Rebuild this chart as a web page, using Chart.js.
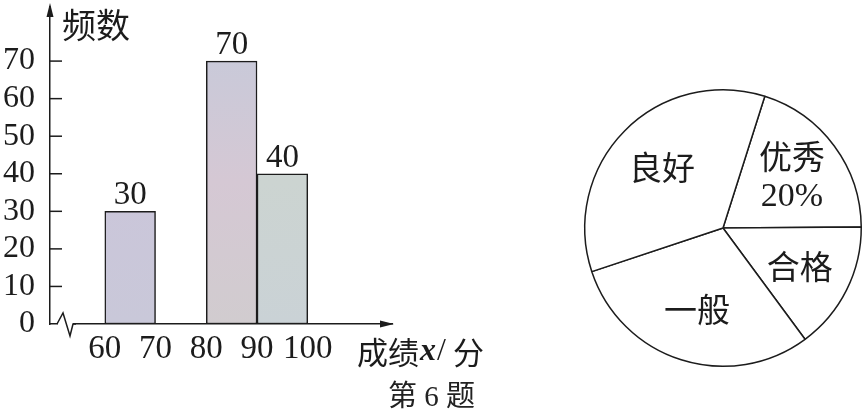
<!DOCTYPE html>
<html>
<head>
<meta charset="utf-8">
<script src="https://cdn.jsdelivr.net/npm/chart.js@4.4.1/dist/chart.umd.min.js"></script>
<style>
  body { margin: 0; background: #fff; overflow: hidden; }
  #wrap { position: relative; width: 863px; height: 413px; }
  #cvBarras { position: absolute; left: 0; top: 0; }
  #cvPastel { position: absolute; left: 573px; top: 78px; }
  #pie { position: absolute; left: 388px; top: 381px; line-height: 30px; font-size: 29px;
         font-family: "Liberation Serif", "Noto Sans CJK SC", serif; color: #222; white-space: pre; }
</style>
</head>
<body>
<div id="wrap">
  <canvas id="cvBarras" width="540" height="413"></canvas>
  <canvas id="cvPastel" width="300" height="300"></canvas>
  <div id="pie">第 6 题</div>
</div>
<script>
(function(){

// ---- datos del histograma (frecuencia por intervalo de nota)
const binStart = [60, 70, 80, 90];
const binWidth = 10;
const freq = [30, null, 70, 40];
const xTicks = [60, 70, 80, 90, 100];
const yTicks = [0, 10, 20, 30, 40, 50, 60, 70];

// ---- datos del grafico circular
const gradeNames = ["优秀", "合格", "一般", "良好"];
const gradePct = [20, 15, 30, 35];
const gradeShown = ["20%", "", "", ""];

// colores (arriba, medio, abajo) de cada barra
const barShades = [
    ["#c8c7db", "#cbc6da", "#c9c8d9"],
    ["#ffffff", "#ffffff", "#ffffff"],
    ["#c4cadb", "#d5c8d4", "#d1cccf"],
    ["#c7ced9", "#ccd4d1", "#cad2d6"]
];

const INK = "#1c1c1c";
const NUM_FONT = "Liberation Serif";
const CJK_FONT = "Noto Sans CJK SC";


// ---- histograma
const $cvBarras = document.querySelector("#cvBarras");

const puntos = binStart.map((b, i) => ({ x: b + binWidth / 2, y: freq[i] }));

function relleno(ctx){
    const area = ctx.chart.chartArea;
    const c = barShades[ctx.dataIndex] || barShades[0];
    if (!area) return c[1];
    const g = ctx.chart.ctx.createLinearGradient(0, area.top, 0, area.bottom);
    g.addColorStop(0, c[0]);
    g.addColorStop(0.55, c[1]);
    g.addColorStop(1, c[2]);
    return g;
}

const ejesExtra = {
    id: "ejesExtra",
    afterDraw(chart){
        const ctx = chart.ctx;
        const a = chart.chartArea;
        const sy = chart.scales.y;
        ctx.save();
        ctx.strokeStyle = INK;
        ctx.fillStyle = INK;
        ctx.lineWidth = 1.5;

        // marcas hacia adentro del eje y
        yTicks.forEach(v => {
            if (v === 0) return;
            const py = sy.getPixelForValue(v);
            ctx.beginPath();
            ctx.moveTo(a.left, py);
            ctx.lineTo(a.left + 12, py);
            ctx.stroke();
        });

        // flechas
        ctx.beginPath();
        ctx.moveTo(a.left, a.top - 4);
        ctx.lineTo(a.left - 3.5, a.top + 10);
        ctx.lineTo(a.left + 3.5, a.top + 10);
        ctx.closePath();
        ctx.fill();

        ctx.beginPath();
        ctx.moveTo(a.right + 2, a.bottom);
        ctx.lineTo(a.right - 12, a.bottom - 3.5);
        ctx.lineTo(a.right - 12, a.bottom + 3.5);
        ctx.closePath();
        ctx.fill();

        // corte en zigzag del eje x
        ctx.fillStyle = "#fff";
        ctx.fillRect(a.left + 8, a.bottom - 3, 15, 6);
        ctx.beginPath();
        ctx.moveTo(a.left + 7, a.bottom);
        ctx.lineTo(a.left + 13, a.bottom - 11);
        ctx.lineTo(a.left + 20, a.bottom + 12);
        ctx.lineTo(a.left + 23, a.bottom);
        ctx.lineTo(a.left + 26, a.bottom);
        ctx.stroke();

        // valores sobre las barras
        ctx.fillStyle = INK;
        ctx.font = "33px '" + NUM_FONT + "'";
        ctx.textAlign = "center";
        ctx.textBaseline = "bottom";
        chart.getDatasetMeta(0).data.forEach((bar, i) => {
            if (freq[i] == null) return;
            ctx.fillText(String(freq[i]), bar.x, bar.y + 1);
        });

        // titulos de los ejes
        ctx.textAlign = "left";
        ctx.textBaseline = "middle";
        ctx.font = "34px '" + CJK_FONT + "'";
        ctx.fillText("频数", a.left + 12, 25);

        let x = 357;
        const yT = 352;
        ctx.font = "31px '" + CJK_FONT + "'";
        ctx.fillText("成绩", x, yT);
        x += ctx.measureText("成绩").width + 1;
        ctx.font = "italic bold 32px '" + NUM_FONT + "'";
        ctx.fillText("x", x, yT);
        x += ctx.measureText("x").width + 1;
        ctx.font = "32px '" + NUM_FONT + "'";
        ctx.fillText("/", x, yT);
        x += ctx.measureText("/").width + 7;
        ctx.font = "31px '" + CJK_FONT + "'";
        ctx.fillText("分", x, yT);

        ctx.restore();
    }
};

let graficoBarras = new Chart($cvBarras, {
    type: "bar",
    data: {
        datasets: [{
            data: puntos,
            backgroundColor: relleno,
            borderColor: INK,
            borderWidth: 1.5,
            borderSkipped: false,
            barPercentage: 1,
            categoryPercentage: 1
        }]
    },
    options: {
        responsive: false,
        animation: false,
        events: [],
        layout: { padding: { top: 7, right: 148, left: 0, bottom: 0 } },
        plugins: { legend: { display: false }, tooltip: { enabled: false } },
        scales: {
            x: {
                type: "linear",
                offset: false,
                min: 49.2,
                max: 116.6,
                afterBuildTicks: s => { s.ticks = xTicks.map(v => ({ value: v })); },
                afterFit: s => { s.height = 89; s.paddingLeft = 0; s.paddingRight = 0; },
                grid: { display: false, offset: false },
                border: { display: true, color: INK, width: 1.5 },
                ticks: {
                    color: INK,
                    font: { family: NUM_FONT, size: 33 },
                    padding: -2,
                    maxRotation: 0,
                    autoSkip: false
                }
            },
            y: {
                min: 0,
                max: 84.4,
                afterBuildTicks: s => { s.ticks = yTicks.map(v => ({ value: v })); },
                afterFit: s => { s.width = 50; s.paddingTop = 0; s.paddingBottom = 0; },
                grid: { display: false },
                border: { display: true, color: INK, width: 1.5 },
                ticks: {
                    color: INK,
                    font: { family: NUM_FONT, size: 32 },
                    padding: 7
                }
            }
        }
    },
    plugins: [ejesExtra]
});


// ---- grafico circular
const $cvPastel = document.querySelector("#cvPastel");

const etiquetasPastel = {
    id: "etiquetasPastel",
    afterDraw(chart){
        const ctx = chart.ctx;
        ctx.save();
        ctx.fillStyle = INK;
        ctx.textAlign = "center";
        ctx.textBaseline = "middle";
        chart.getDatasetMeta(0).data.forEach((arc, i) => {
            const p = arc.getProps(["x", "y", "startAngle", "endAngle", "outerRadius"], true);
            const mid = (p.startAngle + p.endAngle) / 2;
            const r = p.outerRadius * 0.62;
            const cx = p.x + Math.cos(mid) * r;
            const cy = p.y + Math.sin(mid) * r;
            if (gradeShown[i]) {
                ctx.font = "33px '" + CJK_FONT + "'";
                ctx.fillText(gradeNames[i], cx, cy - 21);
                ctx.font = "34px '" + NUM_FONT + "'";
                ctx.fillText(gradeShown[i], cx, cy + 20);
            } else {
                ctx.font = "33px '" + CJK_FONT + "'";
                ctx.fillText(gradeNames[i], cx, cy);
            }
        });
        ctx.restore();
    }
};

let graficoPastel = new Chart($cvPastel, {
    type: "pie",
    data: {
        labels: gradeNames,
        datasets: [{
            data: gradePct,
            backgroundColor: "#fff",
            borderColor: INK,
            borderWidth: 1.5
        }]
    },
    options: {
        responsive: false,
        animation: false,
        events: [],
        rotation: 17.6,
        layout: { padding: 11 },
        plugins: { legend: { display: false }, tooltip: { enabled: false } }
    },
    plugins: [etiquetasPastel]
});

})();
</script>
</body>
</html>
